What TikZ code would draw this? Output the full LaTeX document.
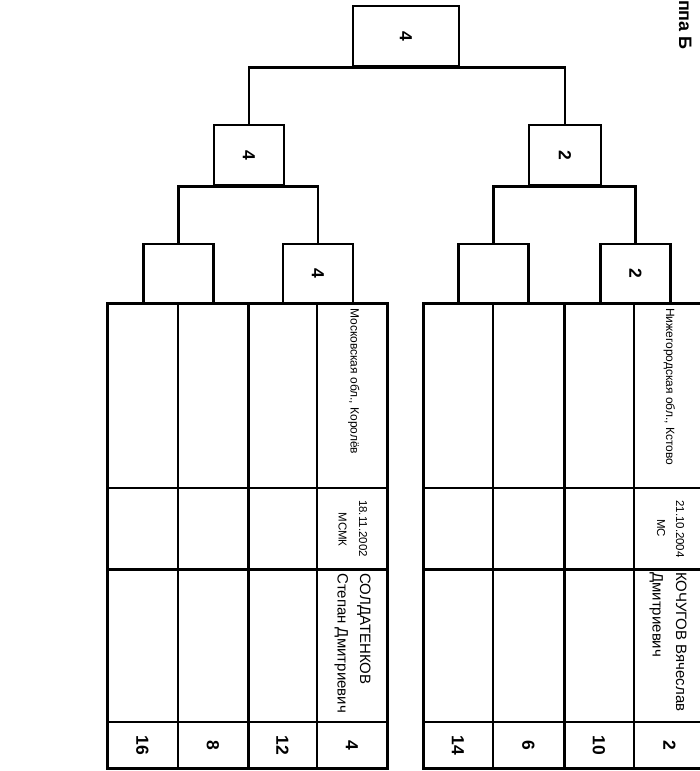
\documentclass[tikz,border=0pt]{standalone}
\usepackage{fontspec}
\setmainfont{Liberation Sans}
\usepackage{graphicx}
\tikzset{
  bline/.style={line width=2.9pt},
  bbox/.style={draw, line width=2.9pt, inner sep=0pt, fill=white,
    font=\fontsize{17.5}{17.5}\selectfont\bfseries},
  thinl/.style={line width=2.3pt},
  thickl/.style={line width=3.0pt},
  rtxt/.style={rotate=-90, inner sep=0pt},
  regiont/.style={rtxt, anchor=base west, font=\fontsize{12}{13}\selectfont},
  datet/.style={rtxt, anchor=base, font=\fontsize{11.5}{13}\selectfont},
  namet/.style={rtxt, anchor=base west, font=\fontsize{15}{16}\selectfont},
  seedt/.style={rtxt, anchor=center, font=\fontsize{17.5}{17.5}\selectfont\bfseries},
}
\begin{document}
\begin{tikzpicture}[x=1pt,y=-1pt]
\useasboundingbox (0,0) rectangle (699,771);
\fill[white] (0,0) rectangle (699,771);

% title
\node[rtxt, anchor=base east, font=\fontsize{18}{18}\selectfont\bfseries] (title) at (679,50) {ппа Б};

% left table
\draw[thickl] (107,303) rectangle (387,768);
\draw[thinl] (178,303) -- (178,768) (317,303) -- (317,768);
\draw[thickl] (248,303) -- (248,768);
\draw[thinl] (107,488) -- (387,488) (107,722) -- (387,722);
\draw[thickl] (107,569) -- (387,569);

% right table
\draw[thickl] (423,303) rectangle (705,768);
\draw[thinl] (493,303) -- (493,768) (634,303) -- (634,768);
\draw[thickl] (564,303) -- (564,768);
\draw[thinl] (423,488) -- (705,488) (423,722) -- (705,722);
\draw[thickl] (423,569) -- (705,569);

% bracket boxes
\node[bbox, minimum width=70pt, minimum height=59pt] (A) at (178.5,273.5) {};
\node[bbox, minimum width=70pt, minimum height=59pt] (B) at (318,273.5) {\rotatebox{-90}{4}};
\node[bbox, minimum width=70pt, minimum height=59pt] (C) at (493.5,273.5) {};
\node[bbox, minimum width=70pt, minimum height=59pt] (D) at (635.5,273.5) {\rotatebox{-90}{2}};
\node[bbox, minimum width=70pt, minimum height=60pt] (L2) at (249,155) {\rotatebox{-90}{4}};
\node[bbox, minimum width=72pt, minimum height=60pt] (R2) at (565,155) {\rotatebox{-90}{2}};
\node[bbox, minimum width=106pt, minimum height=60pt] (F) at (406,36) {\rotatebox{-90}{4}};

\draw[bline] (A.north) |- (L2.south) -| (B.north);
\draw[bline] (C.north) |- (R2.south) -| (D.north);
\draw[bline] (L2.north) |- (F.south) -| (R2.north);

% left table texts
\node[regiont] (reg1) at (350.5,308) {Московская обл., Королёв};
\node[datet] (date1) at (359,528.5) {18.11.2002};
\node[datet] (rank1) at (338.5,529.5) {МСМК};
\node[namet] (sur1) at (360,573) {СОЛДАТЕНКОВ};
\node[namet] (nam1) at (337.5,573) {Степан Дмитриевич};

% right table texts
\node[regiont] (reg2) at (666,308) {Нижегородская обл., Кстово};
\node[datet] (date2) at (676,529) {21.10.2004};
\node[datet] (rank2) at (657,528) {МС};
\node[namet] (sur2) at (676,572) {КОЧУГОВ Вячеслав};
\node[namet] (nam2) at (652.5,572) {Дмитриевич};

% seeds
\node[seedt] (s16) at (142.5,745) {16};
\node[seedt] (s8) at (213,745) {8};
\node[seedt] (s12) at (282.5,745) {12};
\node[seedt] (s4) at (352,745) {4};
\node[seedt] (s14) at (458,745) {14};
\node[seedt] (s6) at (528.5,745) {6};
\node[seedt] (s10) at (599,745) {10};
\node[seedt] (s2) at (669.5,745) {2};
\end{tikzpicture}
\end{document}
